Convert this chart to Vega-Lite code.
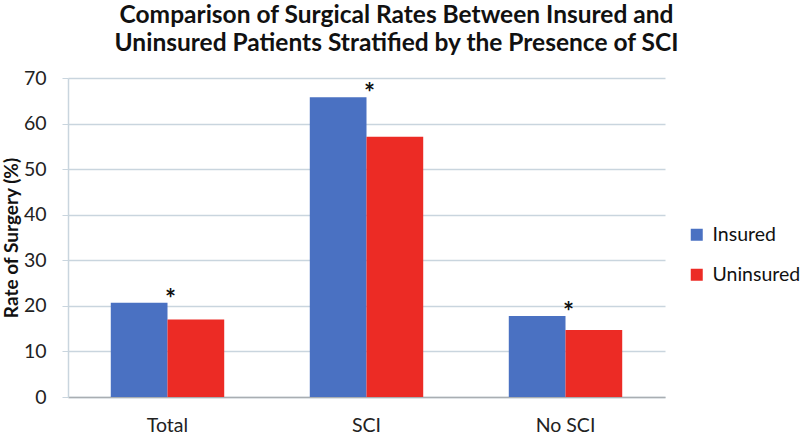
{
  "$schema": "https://vega.github.io/schema/vega-lite/v6.json",
  "autosize": {"type": "none"},
  "padding": {"left": 68, "top": 78, "right": 135, "bottom": 37},
  "width": 597,
  "height": 319,
  "background": "white",
  "title": {
    "text": ["Comparison of Surgical Rates Between Insured and", "Uninsured Patients Stratified by the Presence of SCI"],
    "font": "Lato",
    "fontSize": 24.5,
    "fontWeight": "bold",
    "lineHeight": 28,
    "color": "#111111",
    "anchor": "middle",
    "frame": "group",
    "dx": 30,
    "offset": 12
  },
  "config": {
    "view": {"stroke": null},
    "font": "Lato"
  },
  "data": {
    "values": [
      {"category": "Total", "group": "Insured", "value": 20.7, "sig": "*"},
      {"category": "Total", "group": "Uninsured", "value": 17.0, "sig": ""},
      {"category": "SCI", "group": "Insured", "value": 65.8, "sig": "*"},
      {"category": "SCI", "group": "Uninsured", "value": 57.1, "sig": ""},
      {"category": "No SCI", "group": "Insured", "value": 17.8, "sig": "*"},
      {"category": "No SCI", "group": "Uninsured", "value": 14.7, "sig": ""}
    ]
  },
  "encoding": {
    "x": {
      "field": "category",
      "type": "nominal",
      "sort": ["Total", "SCI", "No SCI"],
      "scale": {"paddingInner": 0.43, "paddingOuter": 0.215},
      "axis": {
        "title": null,
        "labelAngle": 0,
        "labelFont": "Lato",
        "labelFontSize": 19.5,
        "labelColor": "#222222",
        "labelPadding": 19,
        "ticks": false,
        "domainColor": "#a9aeb2",
        "domainWidth": 1.5
      }
    },
    "y": {
      "field": "value",
      "type": "quantitative",
      "scale": {"domain": [0, 70], "nice": false},
      "axis": {
        "title": "Rate of Surgery (%)",
        "titleFont": "Lato",
        "titleFontSize": 19,
        "titleFontWeight": "bold",
        "titleColor": "#111111",
        "titlePadding": 2,
        "values": [0, 10, 20, 30, 40, 50, 60, 70],
        "labelFont": "Lato",
        "labelFontSize": 19.5,
        "labelColor": "#222222",
        "labelPadding": 16,
        "tickSize": 6,
        "tickColor": "#c9d5de",
        "gridColor": "#c9d5de",
        "gridWidth": 1.5,
        "domainColor": "#c9d5de",
        "domainWidth": 1.5
      }
    }
  },
  "layer": [
    {
      "mark": {"type": "bar"},
      "encoding": {
        "xOffset": {"field": "group", "type": "nominal", "scale": {"paddingInner": 0, "paddingOuter": 0}},
        "color": {
          "field": "group",
          "type": "nominal",
          "scale": {"domain": ["Insured", "Uninsured"], "range": ["#4a71c2", "#ec2b25"]},
          "legend": {
            "title": null,
            "orient": "none",
            "legendX": 619,
            "legendY": 147,
            "symbolType": "square",
            "symbolSize": 144,
            "symbolStrokeWidth": 0,
            "labelFont": "Lato",
            "labelFontSize": 19.5,
            "labelColor": "#111111",
            "labelOffset": 6,
            "rowPadding": 19
          }
        }
      }
    },
    {
      "transform": [{"filter": "datum.sig != ''"}],
      "mark": {"type": "text", "font": "Lato", "fontSize": 26, "fontWeight": "bold", "baseline": "alphabetic", "dx": 3, "dy": 5, "color": "#111111"},
      "encoding": {
        "text": {"field": "sig"}
      }
    }
  ]
}
